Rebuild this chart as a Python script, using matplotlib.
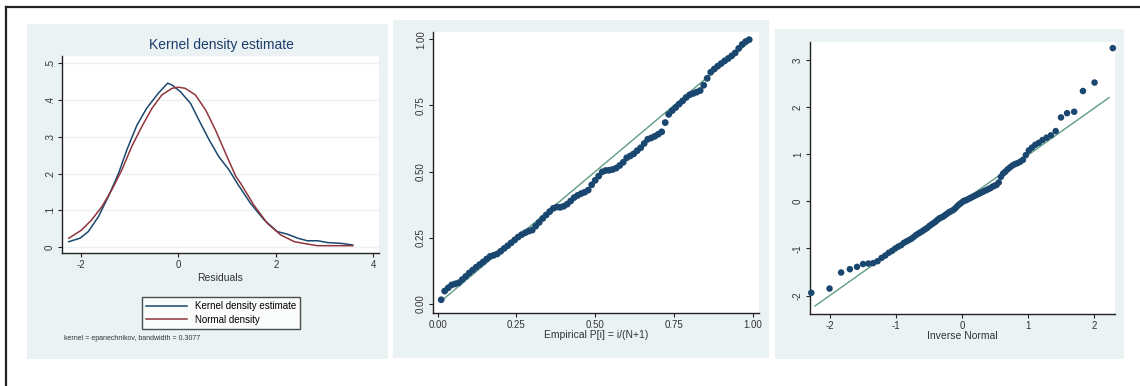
import matplotlib
matplotlib.use("Agg")
import matplotlib.pyplot as plt
from matplotlib.patches import Rectangle
from matplotlib.lines import Line2D
from statistics import NormalDist

plt.rcParams['font.family'] = ['Liberation Sans Narrow', 'Liberation Sans', 'DejaVu Sans']
plt.rcParams['axes.unicode_minus'] = False

# ---- kernel density panel ----
kde_x = [-2.25, -2.02, -1.85, -1.64, -1.44, -1.23, -1.06, -0.85, -0.65, -0.41, -0.22,
         -0.13, 0.04, 0.25, 0.42, 0.63, 0.83, 1.04, 1.21, 1.48, 1.76, 2.03, 2.24, 2.45,
         2.65, 2.86, 3.07, 3.34, 3.58]
kde_y = [0.0145, 0.024, 0.042, 0.083, 0.137, 0.20, 0.264, 0.332, 0.378, 0.419, 0.446,
         0.441, 0.423, 0.391, 0.346, 0.292, 0.246, 0.21, 0.173, 0.119, 0.074, 0.042,
         0.035, 0.024, 0.017, 0.017, 0.012, 0.010, 0.0055]
norm_x = [-2.25, -1.99, -1.78, -1.57, -1.37, -1.16, -0.96, -0.75, -0.54, -0.34, -0.13,
          0.0, 0.14, 0.35, 0.56, 0.76, 0.97, 1.18, 1.28, 1.55, 1.83, 2.10, 2.38, 2.65,
          2.86, 3.20, 3.58]
norm_y = [0.024, 0.046, 0.074, 0.11, 0.155, 0.21, 0.273, 0.328, 0.378, 0.414, 0.432,
          0.435, 0.432, 0.414, 0.373, 0.319, 0.255, 0.192, 0.173, 0.114, 0.064, 0.033,
          0.0145, 0.008, 0.0036, 0.0036, 0.0036]
kde_xticks = [-2, 0, 2, 4]
kde_yticks = [0, 0.1, 0.2, 0.3, 0.4, 0.5]
kde_ylabels = ['0', '.1', '.2', '.3', '.4', '.5']

# ---- pnorm panel (sorted residuals, i = 1..N) ----
pnorm_y = [0.016, 0.049, 0.061, 0.072, 0.076, 0.080, 0.092, 0.104, 0.117, 0.128,
           0.139, 0.149, 0.159, 0.170, 0.180, 0.184, 0.189, 0.199, 0.210, 0.220,
           0.231, 0.242, 0.253, 0.262, 0.269, 0.275, 0.279, 0.294, 0.308, 0.323,
           0.336, 0.349, 0.361, 0.366, 0.365, 0.369, 0.377, 0.389, 0.402, 0.410,
           0.417, 0.422, 0.430, 0.450, 0.467, 0.483, 0.499, 0.504, 0.505, 0.508,
           0.513, 0.523, 0.535, 0.552, 0.559, 0.567, 0.579, 0.590, 0.606, 0.622,
           0.627, 0.633, 0.641, 0.650, 0.685, 0.716, 0.730, 0.742, 0.755, 0.767,
           0.780, 0.790, 0.795, 0.800, 0.806, 0.826, 0.852, 0.875, 0.887, 0.898,
           0.908, 0.918, 0.927, 0.937, 0.948, 0.965, 0.980, 0.991, 0.998]
pnorm_line = [0.011, 0.989]
pnorm_ticks = [0.0, 0.25, 0.5, 0.75, 1.0]
pnorm_labels = ['0.00', '0.25', '0.50', '0.75', '1.00']

# ---- qnorm panel ----
qnorm_y = [-1.94, -1.85, -1.51, -1.44, -1.39, -1.33, -1.32, -1.31, -1.27, -1.20,
           -1.15, -1.09, -1.05, -1.00, -0.96, -0.93, -0.88, -0.85, -0.82, -0.79,
           -0.75, -0.71, -0.68, -0.65, -0.62, -0.59, -0.56, -0.52, -0.49, -0.46,
           -0.43, -0.39, -0.36, -0.34, -0.32, -0.29, -0.26, -0.23, -0.21, -0.19,
           -0.16, -0.12, -0.08, -0.05, -0.02, 0.01, 0.02, 0.04, 0.06, 0.08,
           0.10, 0.12, 0.14, 0.16, 0.18, 0.20, 0.22, 0.24, 0.26, 0.28,
           0.31, 0.33, 0.35, 0.40, 0.52, 0.59, 0.63, 0.68, 0.72, 0.76,
           0.79, 0.81, 0.84, 0.88, 0.98, 1.08, 1.14, 1.20, 1.24, 1.30,
           1.35, 1.40, 1.49, 1.78, 1.87, 1.90, 2.34, 2.52, 3.25]
qnorm_line_x = [-2.23, 2.23]
qnorm_line_y = [-2.22, 2.20]
qnorm_xticks = [-2, -1, 0, 1, 2]
qnorm_yticks = [-2, -1, 0, 1, 2, 3]

N = len(pnorm_y)
emp_p = [i / (N + 1) for i in range(1, N + 1)]
inv_norm = [NormalDist().inv_cdf(p) for p in emp_p]

BG = '#eaf2f3'
NAVY = '#1a476f'
MAROON = '#90353b'
GREEN = '#5f9c84'
W, H = 1140, 386

fig = plt.figure(figsize=(W / 100, H / 100), dpi=100)
fig.patch.set_facecolor('white')


def frac(x0, y0, x1, y1):
    return [x0 / W, 1 - y1 / H, (x1 - x0) / W, (y1 - y0) / H]


# panel backgrounds
for x0, y0, x1, y1 in [(27, 24, 388, 359), (393, 20, 769, 358), (775, 29, 1124, 359)]:
    fig.add_artist(Rectangle((x0 / W, 1 - y1 / H), (x1 - x0) / W, (y1 - y0) / H,
                             transform=fig.transFigure, facecolor=BG, edgecolor='none', zorder=0))

# outer frame
fig.add_artist(Line2D([6 / W, 6 / W], [0, 1 - 7 / H], transform=fig.transFigure, color='#222222', lw=1.6))
fig.add_artist(Line2D([6 / W, 1], [1 - 7 / H, 1 - 7 / H], transform=fig.transFigure, color='#222222', lw=1.6))


def style(ax):
    ax.set_facecolor('white')
    for s in ['top', 'right']:
        ax.spines[s].set_visible(False)
    for s in ['left', 'bottom']:
        ax.spines[s].set_color('#222222')
        ax.spines[s].set_linewidth(1.0)
    ax.tick_params(direction='out', length=3, width=0.8, color='#222222',
                   labelsize=7, labelcolor='#333333', pad=2)
    ax.set_zorder(2)


# ---- panel 1 ----
ax1 = fig.add_axes(frac(62, 56, 379, 253))
style(ax1)
for t in kde_yticks:
    ax1.axhline(t, color=BG, lw=1.0, zorder=0)
ax1.plot(kde_x, kde_y, color=NAVY, lw=1.1, label='Kernel density estimate')
ax1.plot(norm_x, norm_y, color=MAROON, lw=1.1, label='Normal density')
ax1.set_xlim(-2.39, 4.12)
ax1.set_ylim(-0.0163, 0.52)
ax1.set_xticks(kde_xticks)
ax1.set_yticks(kde_yticks)
ax1.set_yticklabels(kde_ylabels, rotation=90, va='center')
ax1.set_xlabel('Residuals', fontsize=7.5, color='#333333', labelpad=2)
fig.text(221 / W, 1 - 45 / H, 'Kernel density estimate', ha='center', va='center',
         fontsize=10, color='#1e3d6b')
leg = ax1.legend(loc='upper center', bbox_to_anchor=(221 / W, 1 - 292 / H),
                 bbox_transform=fig.transFigure, fontsize=7, frameon=True, fancybox=False,
                 handlelength=4.2, borderpad=0.45, labelspacing=0.35, handletextpad=0.8)
leg.get_frame().set_edgecolor('#222222')
leg.get_frame().set_linewidth(1.0)
fig.text(64 / W, 1 - 339 / H, 'kernel = epanechnikov, bandwidth = 0.3077', ha='left',
         va='center', fontsize=5, color='#333333')

# ---- panel 2 ----
ax2 = fig.add_axes(frac(433, 32, 759, 313))
style(ax2)
ax2.plot(pnorm_line, pnorm_line, color=GREEN, lw=1.0, zorder=2)
ax2.scatter(emp_p, pnorm_y, s=24, color=NAVY, edgecolors='none', zorder=3)
ax2.set_xlim(-0.0149, 1.02)
ax2.set_ylim(-0.034, 1.027)
ax2.set_xticks(pnorm_ticks)
ax2.set_xticklabels(pnorm_labels)
ax2.set_yticks(pnorm_ticks)
ax2.set_yticklabels(pnorm_labels, rotation=90, va='center')
ax2.set_xlabel('Empirical P[i] = i/(N+1)', fontsize=7.5, color='#333333', labelpad=0)

# ---- panel 3 ----
ax3 = fig.add_axes(frac(810, 42, 1115, 314))
style(ax3)
ax3.plot(qnorm_line_x, qnorm_line_y, color=GREEN, lw=1.0, zorder=2)
ax3.scatter(inv_norm, qnorm_y, s=22, color=NAVY, edgecolors='none', zorder=3, clip_on=False)
ax3.set_xlim(-2.306, 2.32)
ax3.set_ylim(-2.39, 3.38)
ax3.set_xticks(qnorm_xticks)
ax3.set_yticks(qnorm_yticks)
ax3.set_yticklabels([str(t) for t in qnorm_yticks], rotation=90, va='center')
ax3.set_xlabel('Inverse Normal', fontsize=7.5, color='#333333', labelpad=0)

fig.savefig('out.png', dpi=100)
